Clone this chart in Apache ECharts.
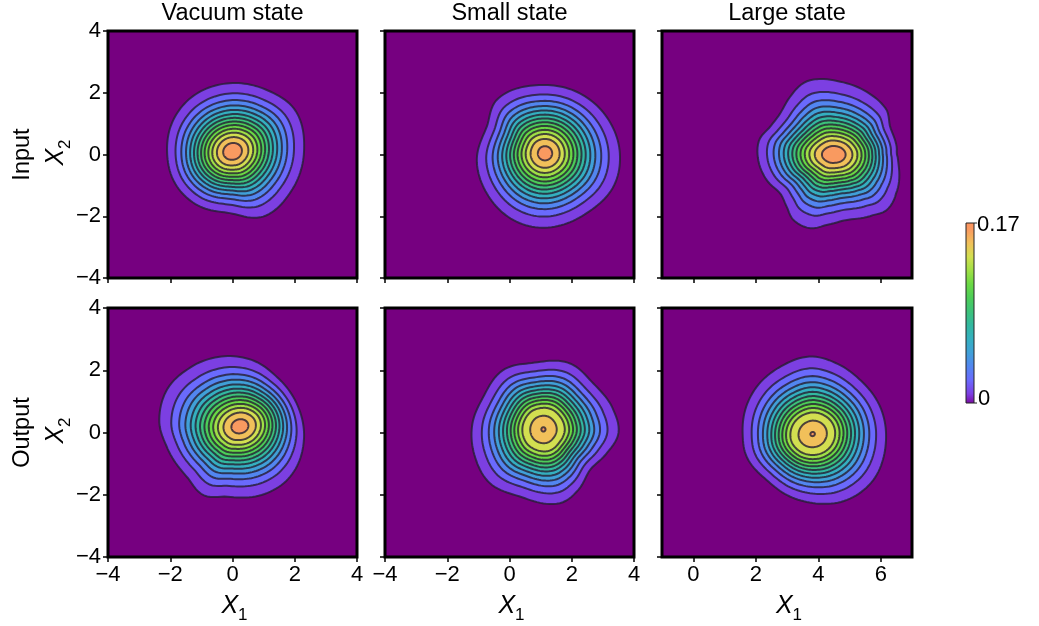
<!DOCTYPE html>
<html><head><meta charset="utf-8">
<script src="https://cdn.jsdelivr.net/npm/echarts@6/dist/echarts.min.js"></script>
<style>html,body{margin:0;padding:0;background:#fff}#c{width:1039px;height:626px}</style>
</head><body><div id="c"></div>
<script>
// ---------------- data ----------------
const stateTitles = ['Vacuum state', 'Small state', 'Large state'];
const rowLabels = ['Input', 'Output'];
const xRanges = [[-4, 4], [-4, 4], [-1, 7]];
const xTickValues = [[-4, -2, 0, 2, 4], [-4, -2, 0, 2, 4], [0, 2, 4, 6]];
const yRange = [-4, 4];
const yTickValues = [-4, -2, 0, 2, 4];
const colorbarLabels = ['0.17', '0'];

// peak position of each distribution (x1, x2)
const peaks = [[0.0, 0.1], [1.14, 0.04], [4.5, 0.0], [0.24, 0.2], [1.09, 0.1], [3.82, -0.05]];

// outermost contour (lowest level), per panel
const outerVacuumIn = [[2.30,0.15],[2.01,1.44],[1.10,2.09],[-0.08,2.31],[-1.36,1.82],[-1.95,1.01],[-2.10,0.04],[-1.85,-0.93],[-1.15,-1.63],[-0.08,-1.90],[0.99,-2.01],[1.91,-1.15]];
const outerSmallIn = [[3.55,-0.07],[3.12,1.22],[2.16,2.03],[0.98,2.25],[-0.41,1.77],[-0.73,0.90],[-1.05,-0.18],[-0.73,-1.26],[0.12,-2.12],[0.98,-2.37],[2.48,-1.90],[3.34,-1.04]];
const outerLargeIn = [[6.54,-0.07],[6.51,0.25],[6.30,0.90],[6.19,1.44],[5.55,2.03],[4.70,2.36],[3.95,2.44],[3.52,2.31],[3.10,1.87],[2.78,1.33],[2.46,0.90],[2.11,0.47],[2.08,-0.18],[2.35,-0.83],[2.78,-1.26],[2.99,-1.69],[3.20,-2.12],[3.74,-2.39],[4.27,-2.28],[4.91,-2.12],[5.76,-1.96],[6.19,-1.80],[6.49,-1.26]];
const outerVacuumOut = [[2.30,-0.13],[2.06,0.94],[1.42,1.79],[0.67,2.31],[-0.08,2.46],[-1.47,2.01],[-2.11,1.37],[-2.35,0.30],[-2.11,-0.46],[-1.47,-1.42],[-0.94,-2.01],[-0.19,-2.06],[1.10,-1.95],[1.85,-1.42]];
const outerSmallOut = [[3.50,-0.03],[3.34,0.72],[2.69,1.58],[1.94,2.22],[0.77,2.24],[-0.20,2.01],[-0.84,1.15],[-1.19,0.30],[-1.11,-0.78],[-0.63,-1.63],[0.34,-2.06],[1.62,-2.27],[2.16,-1.90],[2.59,-1.20],[3.12,-0.67]];
const outerLargeOut = [[6.17,-0.13],[5.98,0.83],[5.34,1.69],[4.59,2.22],[3.74,2.44],[2.78,2.11],[2.03,1.47],[1.66,0.72],[1.58,-0.03],[1.71,-0.78],[2.35,-1.53],[3.10,-2.06],[3.84,-2.27],[4.91,-2.17],[5.76,-1.53],[6.14,-0.56]];

// size of each contour level relative to the outermost one (13 levels, 0 .. 0.17)
const levelsVacuumIn = [1, .857, .762, .686, .621, .561, .506, .452, .399, .344, .286, .219, .13];
const levelsSmallIn = [1, .856, .759, .682, .616, .555, .499, .444, .390, .333, .273, .203, .10];
const levelsLargeIn = [1, .858, .763, .688, .623, .564, .509, .456, .403, .349, .292, .226, .14];
const levelsVacuumOut = [1, .856, .760, .684, .618, .558, .502, .447, .393, .337, .278, .208, .108];
const levelsSmallOut = [1, .862, .768, .694, .630, .572, .518, .466, .415, .362, .302, .19, .03];
const levelsLargeOut = [1, .862, .768, .694, .630, .572, .518, .466, .415, .362, .302, .19, .03];

// shape of the innermost contours: [x stretch, y stretch, tilt in degrees]
const innerShapes = [[1.15, 1, 20], [1, 1, 0], [1.45, 1, 0], [1.25, 1, 15], [1, 1.05, 0], [1.1, 1, 20]];

// filled band colours, from background (index 0) to the top level
const bandColors = ['#760080', '#7c3fe2', '#6a6afd', '#5286f0', '#40a0d8', '#34b0c0', '#32b8a0',
  '#3cc27a', '#4ccd58', '#6ad944', '#a0e046', '#d2df50', '#f1c05a', '#f99a60'];

const outers = [outerVacuumIn, outerSmallIn, outerLargeIn, outerVacuumOut, outerSmallOut, outerLargeOut];
const levelSets = [levelsVacuumIn, levelsSmallIn, levelsLargeIn, levelsVacuumOut, levelsSmallOut, levelsLargeOut];

// ---------------- geometry helpers ----------------
function catmull(p0, p1, p2, p3, t) {
  const t2 = t * t, t3 = t2 * t;
  return 0.5 * ((2 * p1) + (-p0 + p2) * t + (2 * p0 - 5 * p1 + 4 * p2 - p3) * t2 + (-p0 + 3 * p1 - 3 * p2 + p3) * t3);
}
function radiusFn(pts, c) {
  const a = pts.map(p => { const dx = p[0] - c[0], dy = p[1] - c[1]; return { t: Math.atan2(dy, dx), r: Math.hypot(dx, dy) }; })
    .sort((u, v) => u.t - v.t);
  const n = a.length;
  const g = j => a[((j % n) + n) % n].r;
  const mean = a.reduce((s, q) => s + q.r, 0) / n;
  const f = function (th) {
    let t = th;
    while (t < a[0].t) t += 2 * Math.PI;
    while (t >= a[0].t + 2 * Math.PI) t -= 2 * Math.PI;
    let i = 0;
    while (i < n - 1 && a[i + 1].t <= t) i++;
    const t0 = a[i].t, t1 = i + 1 < n ? a[i + 1].t : a[0].t + 2 * Math.PI;
    return catmull(g(i - 1), g(i), g(i + 1), g(i + 2), (t - t0) / (t1 - t0));
  };
  f.mean = mean;
  return f;
}
function ellipseR(th, shape) {
  const s = 1 / Math.sqrt(shape[0] * shape[1]);
  const ax = shape[0] * s, ay = shape[1] * s;
  const al = th - shape[2] * Math.PI / 180;
  return 1 / Math.sqrt(Math.pow(Math.cos(al) / ax, 2) + Math.pow(Math.sin(al) / ay, 2));
}
const NPTS = 144;
const ringPolys = outers.map((pts, p) => {
  const c = peaks[p];
  const R = radiusFn(pts, c);
  return levelSets[p].map(fk => {
    const w = Math.pow(fk, 1.1);
    const poly = [];
    for (let j = 0; j < NPTS; j++) {
      const th = 2 * Math.PI * j / NPTS;
      const r = fk * (w * R(th) + (1 - w) * R.mean * ellipseR(th, innerShapes[p]));
      poly.push([c[0] + r * Math.cos(th), c[1] + r * Math.sin(th)]);
    }
    return poly;
  });
});

// ---------------- layout ----------------
const colLeft = [108, 385, 662];
const colWidth = [249, 249, 250];
const rowTop = [31, 308];
const rowHeight = [247, 249];
const FONT = 'Liberation Sans, Arial, sans-serif';
const minus = v => String(v).replace('-', '\u2212');

const grids = [], xAxes = [], yAxes = [], series = [];
for (let r = 0; r < 2; r++) {
  for (let c = 0; c < 3; c++) {
    const i = r * 3 + c;
    grids.push({
      left: colLeft[c], top: rowTop[r], width: colWidth[c], height: rowHeight[r],
      show: true, backgroundColor: bandColors[0], borderColor: '#000', borderWidth: 3
    });
    xAxes.push({
      gridIndex: i, type: 'value', min: xRanges[c][0], max: xRanges[c][1], position: 'bottom',
      splitLine: { show: false }, axisLine: { show: false, onZero: false },
      axisTick: { show: true, length: 5, lineStyle: { color: '#000', width: 1.5 }, customValues: xTickValues[c] },
      axisLabel: { show: r === 1, customValues: xTickValues[c], formatter: minus, color: '#000', fontSize: 22, fontFamily: FONT, margin: 7 }
    });
    yAxes.push({
      gridIndex: i, type: 'value', min: yRange[0], max: yRange[1], position: 'left',
      splitLine: { show: false }, axisLine: { show: false, onZero: false },
      axisTick: { show: true, length: 5, lineStyle: { color: '#000', width: 1.5 }, customValues: yTickValues },
      axisLabel: { show: c === 0, customValues: yTickValues, formatter: minus, color: '#000', fontSize: 22, fontFamily: FONT, margin: 7 }
    });
    const polys = ringPolys[i];
    series.push({
      type: 'custom', xAxisIndex: i, yAxisIndex: i, clip: true, silent: true, animation: false,
      data: polys.map((_, k) => [peaks[i][0], peaks[i][1], k]),
      encode: { x: 0, y: 1 },
      renderItem: (params, api) => {
        const k = api.value(2);
        const pts = polys[k].map(p => api.coord(p));
        return {
          type: 'polygon', shape: { points: pts },
          style: { fill: bandColors[k + 1], stroke: 'rgba(38,30,50,0.8)', lineWidth: 2 }
        };
      }
    });
  }
}

// ---------------- texts & colour bar ----------------
const graphic = [];
stateTitles.forEach((t, c) => graphic.push({
  type: 'text', x: colLeft[c] + colWidth[c] / 2, y: 14,
  style: { text: t, fontSize: 23.5, fontFamily: FONT, fill: '#000', align: 'center', verticalAlign: 'middle' }
}));
const subRich = {
  x: { fontSize: 25, fontStyle: 'italic', fontFamily: FONT, lineHeight: 30, verticalAlign: 'top', fill: '#000' },
  s: { fontSize: 17, fontFamily: FONT, lineHeight: 16, verticalAlign: 'bottom', fill: '#000' }
};
rowLabels.forEach((t, r) => {
  const cy = rowTop[r] + rowHeight[r] / 2;
  graphic.push({
    type: 'text', x: 23, y: cy, rotation: Math.PI / 2,
    style: { text: t, fontSize: 23.5, fontFamily: FONT, fill: '#000', align: 'center', verticalAlign: 'middle' }
  });
  graphic.push({
    type: 'text', x: 59, y: cy - 2, rotation: Math.PI / 2,
    style: { text: '{x|X}{s|2}', rich: subRich, align: 'center', verticalAlign: 'middle' }
  });
});
for (let c = 0; c < 3; c++) {
  graphic.push({
    type: 'text', x: colLeft[c] + colWidth[c] / 2 + 2, y: 609,
    style: { text: '{x|X}{s|1}', rich: subRich, align: 'center', verticalAlign: 'middle' }
  });
}
const cbX = 966, cbY = 223, cbW = 8, cbH = 180;
const cbStops = [{ offset: 0, color: '#7a0a9e' }].concat(
  bandColors.slice(1).map((col, k) => ({ offset: (k + 0.7) / 13.2, color: col })),
  [{ offset: 1, color: '#fc9460' }]);
graphic.push({
  type: 'rect', shape: { x: cbX, y: cbY, width: cbW, height: cbH },
  style: { fill: new echarts.graphic.LinearGradient(0, 1, 0, 0, cbStops), stroke: '#222', lineWidth: 1 }
});
graphic.push({ type: 'line', shape: { x1: cbX + cbW, y1: cbY, x2: cbX + cbW + 3, y2: cbY }, style: { stroke: '#222', lineWidth: 1 } });
graphic.push({ type: 'line', shape: { x1: cbX + cbW, y1: cbY + cbH, x2: cbX + cbW + 3, y2: cbY + cbH }, style: { stroke: '#222', lineWidth: 1 } });
graphic.push({ type: 'text', x: cbX + cbW + 3, y: cbY + 2, style: { text: colorbarLabels[0], fontSize: 22, fontFamily: FONT, fill: '#000', align: 'left', verticalAlign: 'middle' } });
graphic.push({ type: 'text', x: cbX + cbW + 4, y: cbY + cbH - 4, style: { text: colorbarLabels[1], fontSize: 22, fontFamily: FONT, fill: '#000', align: 'left', verticalAlign: 'middle' } });

const chart = echarts.init(document.getElementById('c'), null, { renderer: 'canvas' });
chart.setOption({
  animation: false, backgroundColor: '#fff',
  grid: grids, xAxis: xAxes, yAxis: yAxes, series: series, graphic: graphic
});
</script></body></html>
